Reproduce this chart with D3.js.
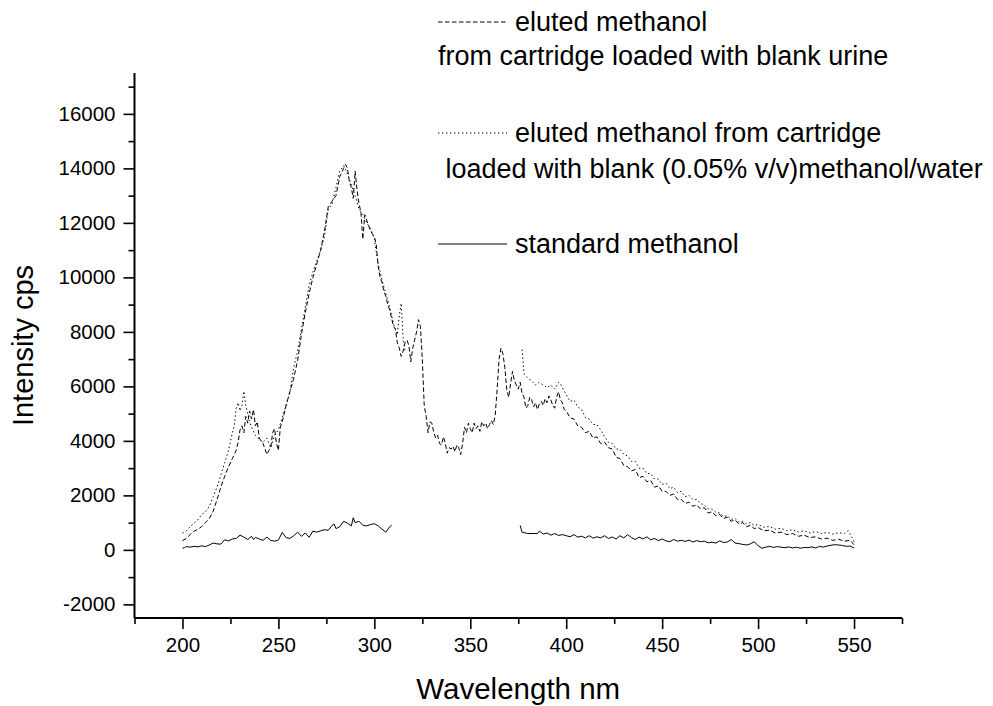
<!DOCTYPE html>
<html>
<head>
<meta charset="utf-8">
<script src="https://cdn.jsdelivr.net/npm/d3@7"></script>
<style>
  html, body { margin: 0; padding: 0; background: #fff; }
  svg { display: block; font-family: Arial, "Liberation Sans", sans-serif; }
</style>
</head>
<body>
<svg id="chart" width="993" height="706"></svg>
<script>
// ---------- data ----------
const urineWl = [200,202,204,206,208,210,212,214,216,218,220,222,224,226,228,229,230,231,232,233,234,235,236,237,238,239,240,242,244,245,246,247,248,249,250,251,252,254,256,258,260,262,264,266,268,270,272,274,276,278,280,282,284,285,286,287,288,289,290,291,292,293,294,295,296,298,300,301,302,303,304,305,306,307,308,309,310,311,312,313,314,315,316,317,318,319,320,321,322,323,324,325,326,327,328,329,330,331,332,333,334,335,336,337,338,339,340,341,342,343,344,345,346,347,348,349,350,351,352,353,354,355,356,357,358,359,360,361,362,363,364,365,366,367,368,369,370,371,372,373,374,375,376,377,378,379,380,381,382,383,384,385,386,387,388,389,390,391,392,393,394,395,396,397,398,399,400,402,404,406,408,410,412,414,416,418,420,422,424,426,428,430,432,434,436,438,440,442,444,446,448,450,452,454,456,458,460,462,464,466,468,470,472,474,476,478,480,482,484,486,488,490,492,494,496,498,500,503,506,509,512,515,518,521,524,527,530,533,536,539,542,545,548,550];
const urineValues = [340,420,560,680,760,850,1000,1150,1420,1840,2300,2700,3050,3350,3650,3950,4400,4550,4300,4900,4650,5100,4800,5150,4550,4700,4100,3900,3500,3650,3750,4300,4450,3900,3650,4500,4700,5300,5800,6300,6950,7900,8700,9400,10000,10500,11000,11700,12600,12800,13000,13700,14000,14150,14000,13500,13300,12900,13900,13200,12700,12400,11400,12300,12100,11700,11500,11200,10400,10000,9800,9500,9300,9000,8800,8500,8200,8100,7600,7400,7100,7300,7600,7700,7500,6900,7400,7700,8000,8450,8200,7000,5300,4900,4300,4700,4650,4300,4100,4200,3900,3850,4150,3900,3550,3750,3700,3800,3600,3850,3750,3500,3900,4500,4300,4650,4450,4300,4650,4450,4550,4350,4700,4550,4650,4450,4600,4750,4600,4950,5900,7000,7400,7200,6700,5900,5600,6100,6550,6200,6050,5900,6150,5750,5600,5200,5300,5600,5500,5250,5400,5150,5350,5450,5300,5550,5400,5650,5500,5300,5200,5600,5800,5500,5400,5150,5100,4850,4800,4550,4500,4300,4350,4100,4150,3900,3950,3750,3700,3400,3350,3100,3050,2900,2950,2650,2700,2500,2550,2300,2350,2150,2150,2000,2050,1850,1850,1700,1750,1600,1650,1500,1550,1350,1400,1250,1300,1150,1200,1050,1100,950,1000,850,900,780,820,700,720,620,650,560,600,500,540,450,480,400,430,350,390,320,350,190];

const waterWl = [200,202,204,206,208,210,212,214,216,218,220,222,224,226,227,228,229,230,231,232,233,234,235,236,238,240,242,244,246,248,250,252,254,256,258,260,262,264,266,268,270,272,274,276,278,280,282,284,286,288,290,292,294,296,298,300,302,304,306,308,310,312,313,314,315,316,346,377,378,380,382,384,386,388,390,392,394,396,397,398,400,402,404,406,408,410,412,414,416,418,420,422,424,426,428,430,432,434,436,438,440,442,444,446,448,450,452,454,456,458,460,462,464,466,468,470,472,474,476,478,480,482,484,486,488,490,492,494,496,498,500,503,506,509,512,515,518,521,524,527,530,533,536,539,542,545,547,549,550];
const waterValues = [610,700,850,980,1100,1300,1400,1600,1950,2300,2750,3200,3650,4300,4550,5200,5400,5100,5300,5820,5300,5000,4700,4500,4200,4050,3950,4100,3750,4200,4400,4850,5300,5800,6700,7300,8100,8900,9700,10200,10600,11000,11500,12500,12700,13300,13900,14100,13800,13400,13000,12500,12300,12000,11800,11400,10500,9900,9400,8900,8300,7900,8600,9050,7800,7300,null,7350,6450,6300,6200,6050,6150,6050,5950,6050,5900,6150,6100,5950,5700,5450,5500,5250,5150,4850,4800,4600,4600,4400,4150,3950,3900,3700,3700,3500,3450,3250,3250,3000,3000,2800,2800,2600,2600,2400,2450,2250,2300,2100,2150,1950,2000,1850,1850,1700,1650,1500,1500,1380,1350,1230,1250,1120,1150,1020,1050,950,1000,900,930,830,860,760,790,700,740,660,700,620,670,600,640,580,630,600,700,450,300];

const standardWl = [200,201,202,204,206,208,210,212,214,216,218,220,222,224,226,228,230,232,234,236,237,238,240,242,244,246,248,250,252,254,256,258,260,262,264,266,268,270,272,274,276,278,279,280,282,284,286,288,289,290,292,294,296,298,300,302,304,306,308,309,340,376,377,380,383,385,386,388,390,392,394,396,398,400,402,404,406,408,410,412,414,416,418,420,422,424,426,428,430,432,434,436,438,440,442,444,446,448,450,452,454,456,458,460,462,464,466,468,470,472,474,476,478,480,482,484,486,488,490,492,494,496,498,500,502,504,506,508,510,512,514,516,518,520,522,524,526,528,530,532,534,536,538,540,542,544,546,548,550];
const standardValues = [60,80,120,100,130,110,150,120,180,250,220,210,370,330,400,420,540,470,380,500,380,460,400,350,470,350,320,360,640,450,420,520,650,500,620,460,690,650,700,740,720,900,950,780,850,1050,980,880,1180,1000,1050,900,880,930,960,880,760,650,850,900,null,900,650,600,600,600,690,580,620,540,600,530,560,520,480,560,470,500,440,520,430,480,440,520,420,470,400,520,440,560,450,380,470,400,480,370,420,340,400,330,300,380,320,350,310,360,290,340,300,320,260,280,250,330,270,290,380,250,230,200,180,220,300,150,60,100,130,90,120,100,80,110,70,100,60,90,80,110,70,130,100,140,170,190,180,160,130,140,70];

const xTicks = [200,250,300,350,400,450,500,550];
const yTicks = [-2000,0,2000,4000,6000,8000,10000,12000,14000,16000];
const xTitle = "Wavelength nm";
const yTitle = "Intensity cps";
const legendLabels = [
  ["eluted methanol", "from cartridge loaded with blank urine"],
  ["eluted methanol from cartridge", " loaded with blank (0.05% v/v)methanol/water"],
  ["standard methanol"]
];

// ---------- chart ----------
const svg = d3.select("#chart");
const plotL = 134.5, plotR = 902, plotT = 73, plotB = 618;
const x = d3.scaleLinear().domain([175, 575]).range([plotL, plotR]);
const y = d3.scaleLinear().domain([-2500, 17500]).range([plotB, plotT]);

const toPts = (wl, vals) => wl.map((w, i) => ({ w, v: vals[i] }));
const line = d3.line().defined(d => d.v != null).x(d => x(d.w)).y(d => y(d.v));

const series = [
  { pts: toPts(urineWl, urineValues), dash: "4.5,2.5" },
  { pts: toPts(waterWl, waterValues), dash: "1.4,2.6" },
  { pts: toPts(standardWl, standardValues), dash: null }
];

series.forEach(s => {
  svg.append("path")
    .datum(s.pts)
    .attr("fill", "none")
    .attr("stroke", "#000")
    .attr("stroke-width", 1)
    .attr("stroke-dasharray", s.dash)
    .attr("d", line);
});

// axes
const fontTick = 20.5;
const fmt = d => String(d); // plain hyphen-minus as in the reference
const xAxis = d3.axisBottom(x).tickValues(xTicks).tickSize(11).tickPadding(8).tickFormat(fmt);
const xMinor = d3.axisBottom(x).tickValues(d3.range(175, 576, 25).filter(v => v % 50 !== 0)).tickSize(6).tickFormat("");
const yAxis = d3.axisLeft(y).tickValues(yTicks).tickSize(11).tickPadding(8).tickFormat(fmt);
const yMinor = d3.axisLeft(y).tickValues(d3.range(-1000, 17500, 2000)).tickSize(6).tickFormat("");

function styleAxis(g) {
  g.select(".domain").attr("stroke", "#000").attr("stroke-width", 2);
  g.selectAll(".tick line").attr("stroke", "#000").attr("stroke-width", 1.6);
  g.selectAll("text").attr("fill", "#000").style("font-size", fontTick + "px")
    .style("font-family", 'Arial, "Liberation Sans", sans-serif');
}

svg.append("g").attr("transform", `translate(0,${plotB})`).call(xMinor).call(styleAxis).select(".domain").remove();
svg.append("g").attr("transform", `translate(${plotL},0)`).call(yMinor).call(styleAxis).select(".domain").remove();
const gx = svg.append("g").attr("transform", `translate(0,${plotB})`).call(xAxis).call(styleAxis);
gx.select(".domain").attr("d", `M${plotL},0H${plotR}`);
const gy = svg.append("g").attr("transform", `translate(${plotL},0)`).call(yAxis).call(styleAxis);
gy.select(".domain").attr("d", `M0,${plotB}V${plotT}`);

// axis titles
svg.append("text")
  .attr("x", (plotL + plotR) / 2).attr("y", 699)
  .attr("text-anchor", "middle")
  .style("font-size", "29.5px").text(xTitle);
svg.append("text")
  .attr("transform", `translate(33,${(plotT + plotB) / 2}) rotate(-90)`)
  .attr("text-anchor", "middle")
  .style("font-size", "29px").text(yTitle);

// legend
const legendFont = 27;
const legendRows = [
  { lineY: 22, base: [31, 65], dash: series[0].dash, tx: [515, 438] },
  { lineY: 133, base: [142, 178], dash: series[1].dash, tx: [515, 438] },
  { lineY: 244, base: [253], dash: series[2].dash, tx: [515] }
];
legendRows.forEach((r, i) => {
  svg.append("line")
    .attr("x1", 438).attr("x2", 507)
    .attr("y1", r.lineY).attr("y2", r.lineY)
    .attr("stroke", "#000").attr("stroke-width", 1)
    .attr("stroke-dasharray", r.dash);
  legendLabels[i].forEach((t, j) => {
    svg.append("text")
      .attr("x", r.tx[j]).attr("y", r.base[j])
      .style("white-space", "pre")
      .style("font-size", legendFont + "px")
      .text(t);
  });
});
</script>
</body>
</html>
